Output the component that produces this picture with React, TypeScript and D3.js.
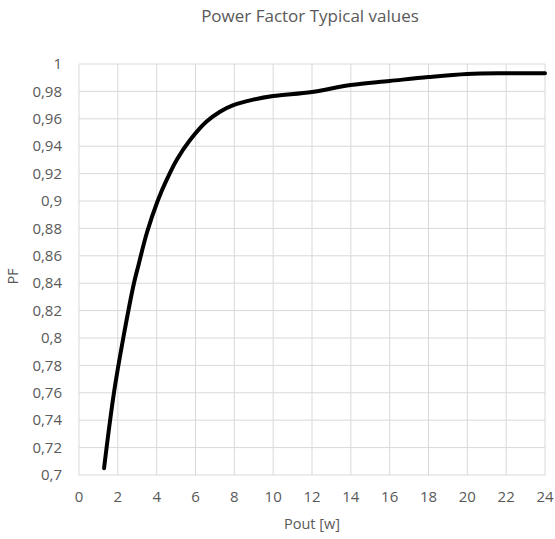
import * as d3 from "d3";

const pout = [1.29, 1.8, 2.28, 2.83, 3.06, 3.5, 4.05, 4.5, 5.03, 5.72, 6.57, 7.26, 7.95, 8.98, 10, 12, 14, 16, 18, 20, 22, 24];
const pf = [0.705, 0.76, 0.8, 0.84, 0.853, 0.877, 0.9, 0.915, 0.93, 0.9445, 0.958, 0.9652, 0.97, 0.974, 0.9766, 0.9796, 0.9847, 0.9876, 0.9905, 0.9927, 0.9932, 0.9932];
const xTicks = d3.range(0, 25, 2);
const yTicks = d3.range(0, 16).map((i) => +(0.7 + i * 0.02).toFixed(2));

const W = 555;
const H = 539;
const font = "'Open Sans', sans-serif";

export default function App() {
  const x = d3.scaleLinear().domain([0, 24]).range([79, 545]);
  const y = d3.scaleLinear().domain([0.7, 1]).range([475, 64]);
  const line = d3
    .line<number>()
    .x((_, i) => x(pout[i]))
    .y((d) => y(d))
    .curve(d3.curveCatmullRom.alpha(0.5));

  const fmt = (v: number) => String(v).replace(".", ",");

  return (
    <svg width={W} height={H} style={{ position: "absolute", left: 0, top: 0 }}>
      <rect width={W} height={H} fill="#fff" />
      <text x={310} y={22} textAnchor="middle" fontFamily={font} fontSize={17} fill="#595959">
        Power Factor Typical values
      </text>
      {xTicks.map((t) => (
        <line key={"gx" + t} x1={x(t)} x2={x(t)} y1={y(1)} y2={y(0.7)} stroke="#d9d9d9" strokeWidth={1} />
      ))}
      {yTicks.map((t) => (
        <line key={"gy" + t} x1={x(0)} x2={x(24)} y1={y(t)} y2={y(t)} stroke="#d9d9d9" strokeWidth={1} />
      ))}
      {yTicks.map((t) => (
        <text key={"ty" + t} x={62} y={y(t)} dy="0.35em" textAnchor="end" fontFamily={font} fontSize={15} fill="#595959">
          {fmt(t)}
        </text>
      ))}
      {xTicks.map((t) => (
        <text key={"tx" + t} x={x(t)} y={502} textAnchor="middle" fontFamily={font} fontSize={15} fill="#595959">
          {t}
        </text>
      ))}
      <text x={312} y={529} textAnchor="middle" fontFamily={font} fontSize={14.5} fill="#595959">
        Pout [w]
      </text>
      <text
        transform={`translate(18,${y(0.845)}) rotate(-90)`}
        textAnchor="middle"
        fontFamily={font}
        fontSize={14}
        fill="#595959"
      >
        PF
      </text>
      <path d={line(pf) ?? ""} fill="none" stroke="#000" strokeWidth={4} strokeLinejoin="round" strokeLinecap="round" />
    </svg>
  );
}
